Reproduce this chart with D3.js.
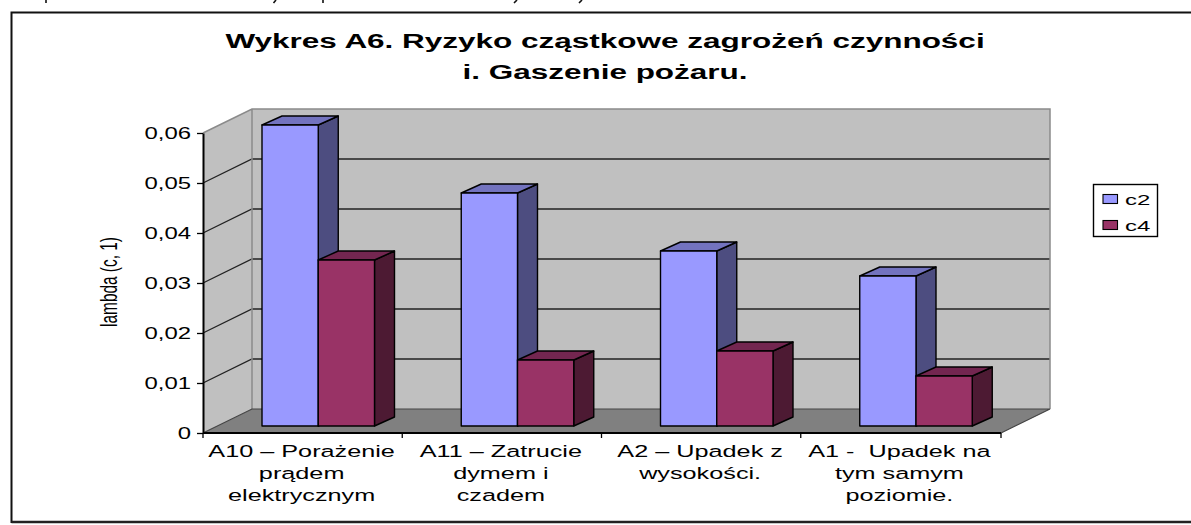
<!DOCTYPE html>
<html lang="pl"><head><meta charset="utf-8">
<script src="https://cdn.jsdelivr.net/npm/d3@7"></script>
<style>html,body{margin:0;padding:0;background:#fff;overflow:hidden}svg{display:block}text{font-family:"Liberation Sans",Arial,sans-serif;fill:#000}</style>
</head><body><svg id="c" width="1191" height="525"></svg>
<script>
const titleLines = ["Wykres A6. Ryzyko cząstkowe zagrożeń czynności", "i. Gaszenie pożaru."];
const yLabel = "lambda (c, 1)";
const categories = ["A10", "A11", "A2", "A1"];
const categoryLabels = [
  ["A10 – Porażenie", "prądem", "elektrycznym"],
  ["A11 – Zatrucie", "dymem i", "czadem"],
  ["A2 – Upadek z", "wysokości."],
  ["A1 -  Upadek na", "tym samym", "poziomie."]
];
const seriesNames = ["c2", "c4"];
const c2Values = [0.0602, 0.0466, 0.035, 0.03];
const c4Values = [0.0332, 0.0132, 0.015, 0.01];
const yTicks = [0, 0.01, 0.02, 0.03, 0.04, 0.05, 0.06];
const fronts = {c2:"#9999FF", c4:"#993366"}, sides = {c2:"#4D4D80", c4:"#4D1A33"}, tops = {c2:"#7373BF", c4:"#732650"};

const svg = d3.select("#c");
const y = d3.scaleLinear().domain([0, 0.06]).range([433, 133]);
const x0 = d3.scaleBand().domain(categories).range([203, 1000]);
const x1 = d3.scaleBand().domain(seriesNames).range([43.5, 156]);
const wall = {dx: 49, dy: -24}, bar = {dx: 15.5, dy: -7}, depth = {dx: 20, dy: -9};
const xL = x0.range()[0], xR = x0.range()[1] + 1, y0 = y(0), yT = y(0.06);
const poly = p => p.map(q => q.join(",")).join(" ");

// chart frame
svg.append("path").attr("d", "M11.5,523V12.5H1191").attr("fill", "none").attr("stroke", "#111").attr("stroke-width", 2);
svg.append("path").attr("d", "M11.5,522H1191").attr("fill", "none").attr("stroke", "#222").attr("stroke-width", 2.5);
// descenders of the clipped line of text above the chart
svg.append("path").attr("fill", "none").attr("stroke", "#111").attr("stroke-width", 1.6)
  .attr("d", "M46,0V3M323,0V3M276,0L273.5,3M517,0L514,3M582,0L579,3");

// title
titleLines.forEach((t, i) => svg.append("text").text(t).attr("text-anchor", "middle")
  .attr("font-weight", "bold").attr("font-size", 21)
  .attr("transform", `translate(605,${48 + i * 31}) scale(1.5,1)`));

// walls and floor
svg.append("polygon").attr("fill", "#C0C0C0").attr("points", poly([[xL + wall.dx, yT + wall.dy], [xR + wall.dx, yT + wall.dy], [xR + wall.dx, y0 + wall.dy], [xL + wall.dx, y0 + wall.dy]]));
svg.append("polygon").attr("fill", "#C0C0C0").attr("points", poly([[xL, yT], [xL + wall.dx, yT + wall.dy], [xL + wall.dx, y0 + wall.dy], [xL, y0]]));
svg.append("polygon").attr("fill", "#808080").attr("points", poly([[xL, y0], [xL + wall.dx, y0 + wall.dy], [xR + wall.dx, y0 + wall.dy], [xR, y0]]));

// gridlines
svg.append("g").selectAll("path").data(yTicks.filter(d => d > 0 && d < 0.06)).join("path")
  .attr("fill", "none").attr("stroke", "#222").attr("stroke-width", 1.3)
  .attr("d", d => `M${xL},${y(d)}L${xL + wall.dx},${y(d) + wall.dy}H${xR + wall.dx}`);
// wall edges
svg.append("path").attr("fill", "none").attr("stroke", "#8a8a8a").attr("stroke-width", 1.5)
  .attr("d", `M${xL},${yT}L${xL + wall.dx},${yT + wall.dy}H${xR + wall.dx}V${y0 + wall.dy}M${xL + wall.dx},${yT + wall.dy}V${y0 + wall.dy}`);
svg.append("path").attr("fill", "none").attr("stroke", "#444").attr("stroke-width", 1.2)
  .attr("d", `M${xL},${y0}L${xL + wall.dx},${y0 + wall.dy}H${xR + wall.dx}L${xR},${y0}`);

// bars
categories.forEach((c, i) => {
  seriesNames.forEach((s, j) => {
    const v = (s === "c2" ? c2Values : c4Values)[i];
    const l = x0(c) + x1(s) + bar.dx, w = x1.bandwidth(), r = l + w;
    const t = y(v) + bar.dy, b = y(0) + bar.dy;
    const g = svg.append("g").attr("stroke", "#000").attr("stroke-width", 1.4).attr("stroke-linejoin", "round");
    g.append("polygon").attr("fill", sides[s]).attr("points", poly([[r, t], [r + depth.dx, t + depth.dy], [r + depth.dx, b + depth.dy], [r, b]]));
    g.append("polygon").attr("fill", tops[s]).attr("points", poly([[l, t], [l + depth.dx, t + depth.dy], [r + depth.dx, t + depth.dy], [r, t]]));
    g.append("rect").attr("fill", fronts[s]).attr("x", l).attr("y", t).attr("width", w).attr("height", b - t);
  });
});

// y axis
const yAxis = svg.append("g").attr("transform", `translate(${xL},0)`)
  .call(d3.axisLeft(y).tickValues(yTicks).tickSize(6).tickSizeOuter(0)
    .tickFormat(d => d === 0 ? "0" : d3.format(".2f")(d).replace(".", ",")));
yAxis.select(".domain").attr("stroke", "#000").attr("stroke-width", 2);
yAxis.selectAll("line").attr("stroke", "#000").attr("stroke-width", 1.3);
yAxis.selectAll("text").attr("x", null).attr("dy", "0.35em").attr("font-size", 16.5).attr("font-family", null)
  .attr("transform", "translate(-12,0) scale(1.45,1)");
yAxis.attr("font-family", null).attr("font-size", null);

// x axis
const xAxis = svg.append("g").attr("transform", `translate(0,${y0})`);
xAxis.append("line").attr("x1", xL).attr("x2", xR).attr("stroke", "#000").attr("stroke-width", 1.8);
xAxis.selectAll(".t").data(categories.concat("end")).join("line").attr("class", "t")
  .attr("x1", d => d === "end" ? xR : x0(d)).attr("x2", d => d === "end" ? xR : x0(d))
  .attr("y1", 0).attr("y2", 5).attr("stroke", "#000").attr("stroke-width", 1.3);
categories.forEach((c, i) => {
  categoryLabels[i].forEach((line, k) => {
    svg.append("text").text(line).attr("text-anchor", "middle").attr("font-size", 16.5)
      .attr("transform", `translate(${x0(c) + x0.bandwidth() / 2 - 1},${y0 + 24 + k * 22}) scale(1.53,1)`)
      .style("white-space", "pre");
  });
});

// y title
svg.append("text").text(yLabel).attr("text-anchor", "middle").attr("font-size", 15.4)
  .attr("transform", "translate(117,282) rotate(-90) scale(1,1.55)");

// legend
const lg = svg.append("g");
lg.append("rect").attr("x", 1093.5).attr("y", 184.5).attr("width", 64).attr("height", 52).attr("fill", "#fff").attr("stroke", "#000").attr("stroke-width", 1.4);
seriesNames.forEach((s, i) => {
  const yy = 199 + i * 26;
  lg.append("rect").attr("x", 1103).attr("y", yy - 4.5).attr("width", 14.5).attr("height", 9).attr("fill", fronts[s]).attr("stroke", "#000").attr("stroke-width", 1.1);
  lg.append("text").text(s).attr("font-size", 15.5).attr("transform", `translate(1125,${yy + 5.5}) scale(1.55,1)`);
});
</script></body></html>
